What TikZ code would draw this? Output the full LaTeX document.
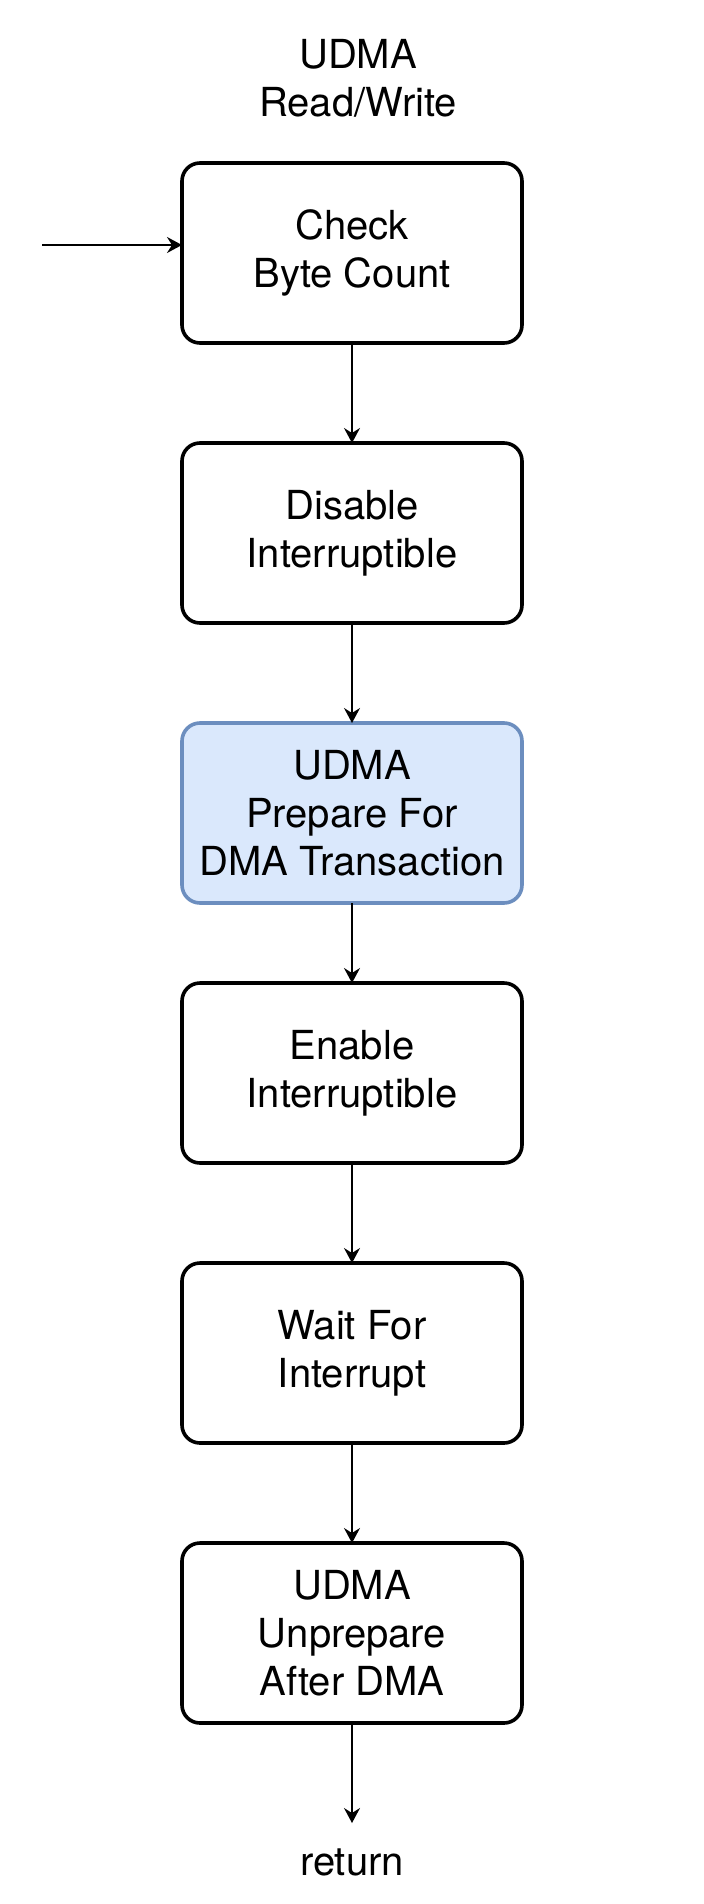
\documentclass[tikz,border=0pt]{standalone}
\usepackage{fontspec}
\setmainfont{TeX Gyre Heros}
\usepackage{xcolor}
\usepackage{tikz}
\usetikzlibrary{arrows.meta,positioning}
\definecolor{hlfill}{HTML}{DAE8FC}
\definecolor{hldraw}{HTML}{6C8EBF}
\tikzset{
  box/.style={draw, line width=1.8pt, rounded corners=9pt, align=center,
              font=\fontsize{20pt}{24pt}\selectfont,
              minimum width=170pt, minimum height=90pt, inner sep=2pt,
              outer sep=0pt},
  plain/.style={box, fill=white, draw=black},
  hilite/.style={box, fill=hlfill, draw=hldraw},
  flow/.style={-{Stealth[length=7.5pt, width=8pt, inset=2.5pt]}, line width=0.8pt},
  lbl/.style={font=\fontsize{20pt}{24pt}\selectfont, align=center, inner sep=0pt},
}
\begin{document}
\begin{tikzpicture}[x=0.5pt, y=-0.5pt, node distance=50pt]
  \useasboundingbox (0,0) rectangle (704,1904);
  \node[lbl] (title) at (358,78) {UDMA\\Read/Write};
  \node[plain] (check) at (352,253) {Check\\Byte Count};
  \node[plain, below=of check] (disable) {Disable\\Interruptible};
  \node[hilite, below=of disable] (prepare) {UDMA\\Prepare For\\DMA Transaction};
  \node[plain, below=40pt of prepare] (enable) {Enable\\Interruptible};
  \node[plain, below=of enable] (wait) {Wait For\\Interrupt};
  \node[plain, below=of wait] (unprep) {UDMA\\Unprepare\\After DMA};
  \coordinate (src) at (42,245);
  \coordinate[below=50pt of unprep] (retend);
  \node[lbl] (ret) at (352,1862) {return};
  \draw[flow] (src) -- (src -| check.west);
  \draw[flow] (check) -- (disable);
  \draw[flow] (disable) -- (prepare);
  \draw[flow] (prepare) -- (enable);
  \draw[flow] (enable) -- (wait);
  \draw[flow] (wait) -- (unprep);
  \draw[flow] (unprep) -- (retend);
\end{tikzpicture}
\end{document}
